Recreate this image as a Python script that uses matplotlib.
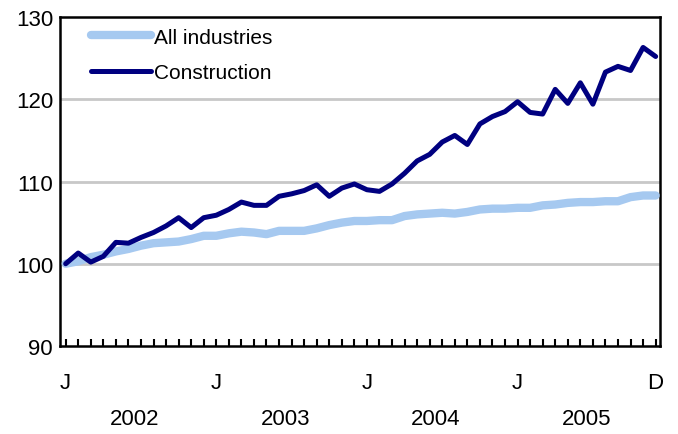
import matplotlib
matplotlib.use("Agg")
import matplotlib.pyplot as plt
import matplotlib.transforms as mtransforms

plt.rcParams['font.family'] = ['Liberation Sans', 'DejaVu Sans']

# monthly index, Jan 2002 = 100
months = list(range(48))
all_industries = [100.0, 100.3, 100.8, 101.1, 101.5, 101.8, 102.2, 102.5, 102.6, 102.7, 103.0, 103.4,
                  103.4, 103.7, 103.9, 103.8, 103.6, 104.0, 104.0, 104.0, 104.3, 104.7, 105.0, 105.2,
                  105.2, 105.3, 105.3, 105.8, 106.0, 106.1, 106.2, 106.1, 106.3, 106.6, 106.7, 106.7,
                  106.8, 106.8, 107.1, 107.2, 107.4, 107.5, 107.5, 107.6, 107.6, 108.1, 108.3, 108.3]
construction = [100.0, 101.3, 100.2, 100.9, 102.6, 102.5, 103.2, 103.8, 104.6, 105.6, 104.4, 105.6,
                105.9, 106.6, 107.5, 107.1, 107.1, 108.2, 108.5, 108.9, 109.6, 108.2, 109.2, 109.7,
                109.0, 108.8, 109.7, 111.0, 112.5, 113.3, 114.8, 115.6, 114.5, 117.0, 117.9, 118.5,
                119.7, 118.4, 118.2, 121.2, 119.5, 122.0, 119.4, 123.3, 124.0, 123.5, 126.3, 125.2]
month_ticks = [0, 12, 24, 36, 47]
month_labels = ["J", "J", "J", "J", "D"]
years = ["2002", "2003", "2004", "2005"]

fig = plt.figure(figsize=(6.78, 4.35), dpi=100, facecolor="white")
ax = fig.add_axes([0.0885, 0.2023, 0.885, 0.7563])

ax.plot(months, all_industries, color="#a6c9f0", lw=6.0, solid_capstyle="round",
        label="All industries", zorder=3)
ax.plot(months, construction, color="#000080", lw=3.6, solid_capstyle="round",
        label="Construction", zorder=4)

ax.set_ylim(90, 130)
ax.set_xlim(-0.45, 47.35)
ax.set_yticks([90, 100, 110, 120, 130])
for v in [100, 110, 120]:
    ax.axhline(v, color="#c8c8c8", lw=2, zorder=1)

for s in ax.spines.values():
    s.set_linewidth(1.8)
    s.set_color("black")

ax.tick_params(axis="y", length=0, pad=5, labelsize=16)
ax.set_xticks(months, minor=True)
ax.set_xticks(month_ticks)
ax.set_xticklabels(month_labels)
ax.tick_params(axis="x", which="both", direction="in", length=5, width=1.5,
               pad=19, labelsize=16)

trans = mtransforms.blended_transform_factory(ax.transData, fig.transFigure)
for i, y in enumerate(years):
    ax.text(i * 12 + 5.5, 0.036, y, transform=trans, ha="center", va="center",
            fontsize=16)

leg = ax.legend(loc="upper left", bbox_to_anchor=(0.027, 1.012), frameon=False,
                fontsize=15, handlelength=2.9, handletextpad=0.15,
                labelspacing=0.8, borderaxespad=0.3)

fig.savefig("out.png", dpi=100)
